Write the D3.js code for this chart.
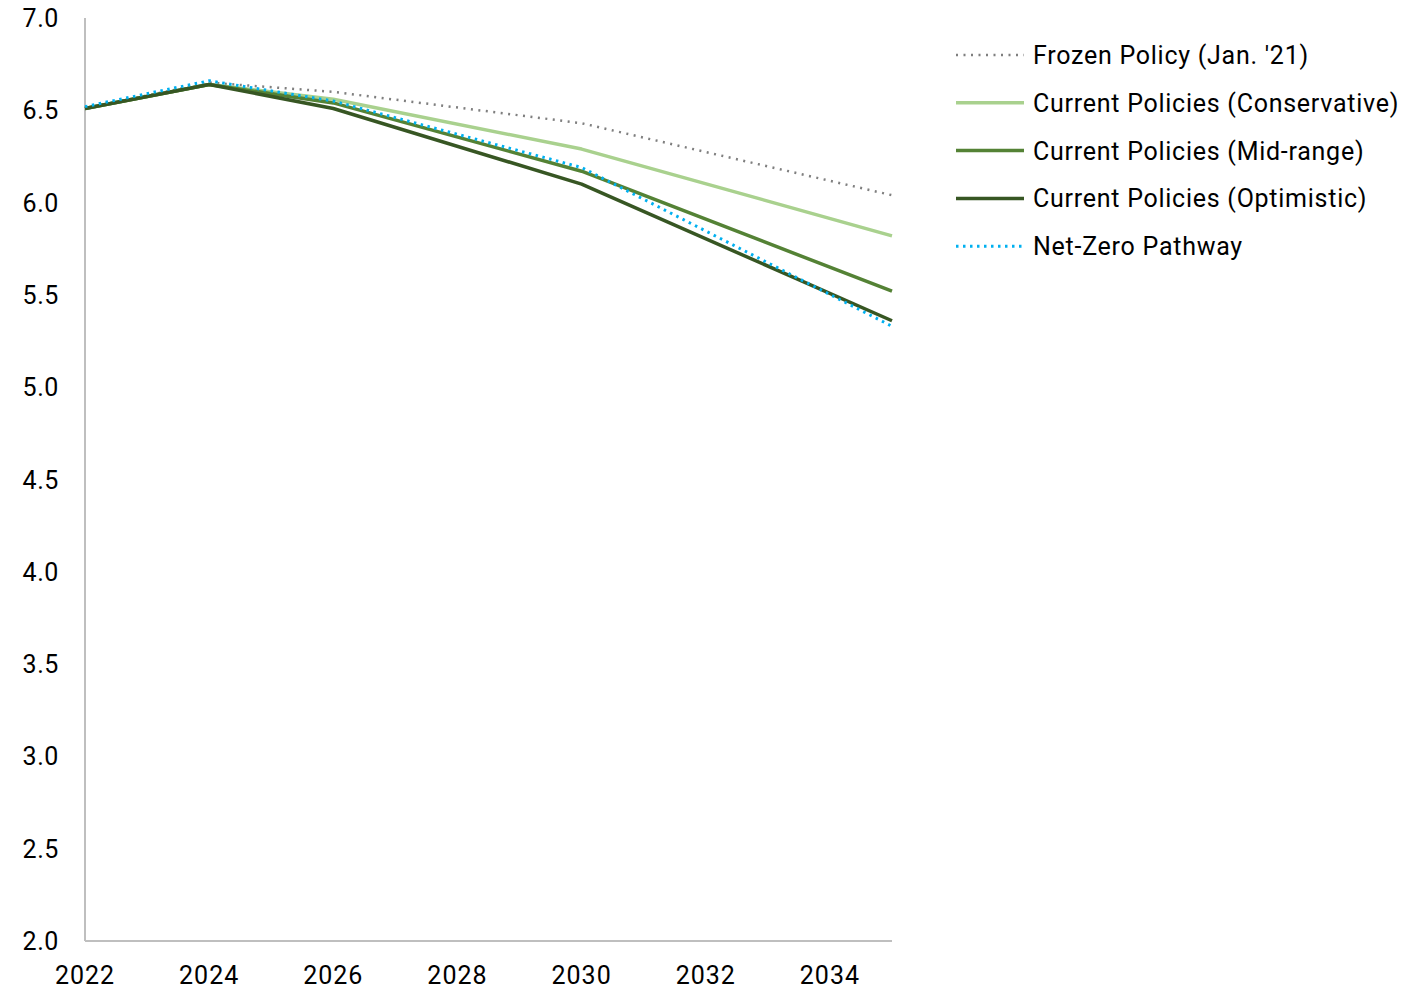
<!DOCTYPE html>
<html><head><meta charset="utf-8">
<script src="https://cdn.jsdelivr.net/npm/d3@7"></script>
<style>
html,body{margin:0;padding:0;background:#fff;}
svg{display:block;font-family:Roboto,"Noto Sans",sans-serif;}
</style></head>
<body>
<svg id="chart" width="1427" height="990"></svg>
<script>
const years = [2022, 2024, 2026, 2030, 2035];
const frozen       = [6.51, 6.65, 6.60, 6.43, 6.04];
const conservative = [6.51, 6.64, 6.56, 6.29, 5.82];
const midRange     = [6.51, 6.64, 6.54, 6.17, 5.52];
const optimistic   = [6.51, 6.64, 6.51, 6.10, 5.36];
const netZero      = [6.52, 6.66, 6.55, 6.19, 5.33];
const seriesNames = ["Frozen Policy (Jan. '21)", "Current Policies (Conservative)", "Current Policies (Mid-range)", "Current Policies (Optimistic)", "Net-Zero Pathway"];
const xTicks = [2022, 2024, 2026, 2028, 2030, 2032, 2034];
const yTicks = [2.0, 2.5, 3.0, 3.5, 4.0, 4.5, 5.0, 5.5, 6.0, 6.5, 7.0];

const series = [
  {name: seriesNames[0], values: frozen, color: "#7f7f7f", dash: "2,5.5", width: 2.5},
  {name: seriesNames[1], values: conservative, color: "#a9d18e", dash: null, width: 3.5},
  {name: seriesNames[2], values: midRange, color: "#548235", dash: null, width: 3.5},
  {name: seriesNames[3], values: optimistic, color: "#375623", dash: null, width: 3.5},
  {name: seriesNames[4], values: netZero, color: "#00b0f0", dash: "2.5,4.5", width: 3}
];

const svg = d3.select("#chart");
const m = {left: 85, top: 18, right: 892, bottom: 941};
const x = d3.scaleLinear().domain([2022, 2035]).range([m.left, m.right]);
const y = d3.scaleLinear().domain([2, 7]).range([m.bottom, m.top]);

// axes lines
svg.append("line").attr("x1", m.left).attr("x2", m.left).attr("y1", m.top).attr("y2", m.bottom)
  .attr("stroke", "#bfbfbf").attr("stroke-width", 2);
svg.append("line").attr("x1", m.left).attr("x2", m.right).attr("y1", m.bottom).attr("y2", m.bottom)
  .attr("stroke", "#bfbfbf").attr("stroke-width", 2);

// y tick labels
svg.append("g").selectAll("text").data(yTicks).join("text")
  .attr("x", 59).attr("y", d => y(d)).attr("dy", "0.36em")
  .attr("text-anchor", "end").attr("font-size", 25).attr("letter-spacing", 0.6).attr("fill", "#000")
  .text(d => d.toFixed(1));

// x tick labels
svg.append("g").selectAll("text").data(xTicks).join("text")
  .attr("x", d => x(d)).attr("y", 984)
  .attr("text-anchor", "middle").attr("font-size", 25).attr("letter-spacing", 1).attr("fill", "#000")
  .text(d => d);

const line = d3.line().x((d, i) => x(years[i])).y(d => y(d));

series.forEach(s => {
  const p = svg.append("path").datum(s.values)
    .attr("d", line).attr("fill", "none")
    .attr("stroke", s.color).attr("stroke-width", s.width)
    .attr("stroke-linejoin", "round");
  if (s.dash) p.attr("stroke-dasharray", s.dash);
});

// legend
const lg = svg.append("g");
series.forEach((s, i) => {
  const yy = 55 + i * 47.8;
  const l = lg.append("line").attr("x1", 956).attr("x2", 1024).attr("y1", yy).attr("y2", yy)
    .attr("stroke", s.color).attr("stroke-width", s.width);
  if (s.dash) l.attr("stroke-dasharray", s.dash);
  lg.append("text").attr("x", 1033).attr("y", yy).attr("dy", "0.36em")
    .attr("font-size", 25).attr("letter-spacing", 0.74).attr("fill", "#000").text(s.name);
});
</script>
</body></html>
